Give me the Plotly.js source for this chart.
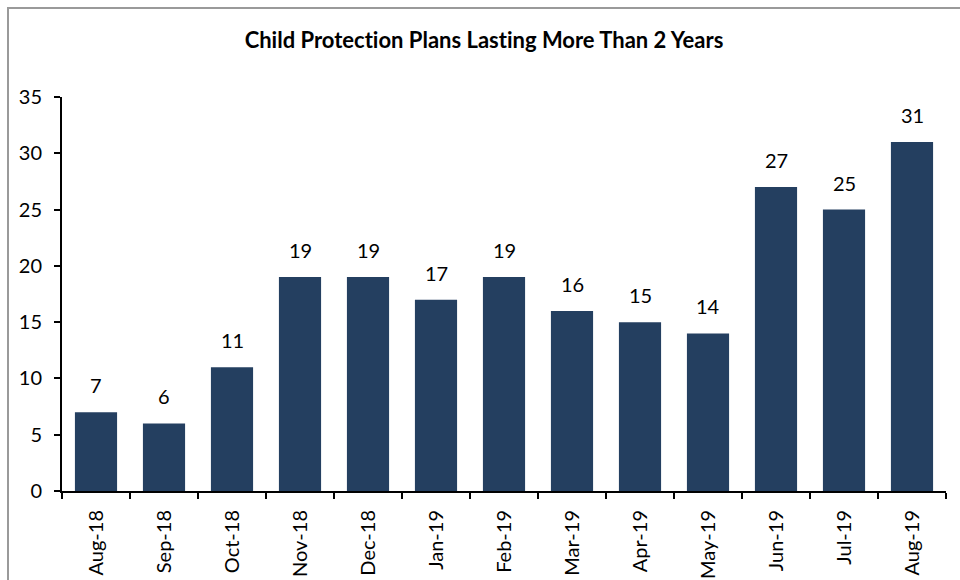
<!DOCTYPE html>
<html>
<head>
<meta charset="utf-8">
<script src="https://cdn.plot.ly/plotly-3.0.1.min.js"></script>
<style>
body{margin:0;padding:0;background:#fff;}
#chart{position:absolute;left:0;top:0;width:960px;height:580px;}
#chart text{font-variant-ligatures:none;font-feature-settings:"liga" 0;}
#frame{position:absolute;left:7px;top:7px;width:970px;height:600px;border:2px solid #9a9a9a;pointer-events:none;}
</style>
</head>
<body>
<div id="chart"></div>
<div id="frame"></div>
<script>
const months = ["Aug-18","Sep-18","Oct-18","Nov-18","Dec-18","Jan-19","Feb-19","Mar-19","Apr-19","May-19","Jun-19","Jul-19","Aug-19"];
const plansOver2Years = [7,6,11,19,19,17,19,16,15,14,27,25,31];
const titleText = "Child Protection Plans Lasting More Than 2 Years";

const fontFam = "Lato, 'Open Sans', sans-serif";

const trace = {
  type: "bar",
  x: months,
  y: plansOver2Years,
  marker: {color: "#243F60"},
  hoverinfo: "x+y"
};

const annotations = months.map((m, i) => ({
  x: m, y: plansOver2Years[i], xref: "x", yref: "y",
  text: String(plansOver2Years[i]), showarrow: false,
  yanchor: "middle", yshift: 27,
  font: {family: fontFam, size: 20, color: "#000"}
}));

const layout = {
  width: 960, height: 580,
  margin: {l: 62, r: 14, t: 97, b: 89},
  paper_bgcolor: "#fff", plot_bgcolor: "#fff",
  title: {text: "<b>" + titleText + "</b>", x: 484/960, xanchor: "center", y: 1 - 40/580, yanchor: "middle",
          font: {family: fontFam, size: 22, color: "#000"}},
  bargap: 0.38,
  showlegend: false,
  xaxis: {
    type: "category",
    showline: true, linecolor: "#000", linewidth: 2,
    ticks: "outside", ticklen: 6, tickcolor: "#000", tickwidth: 2,
    tickson: "boundaries",
    tickangle: -90,
    ticklabelstandoff: 9,
    showgrid: false, zeroline: false,
    tickfont: {family: fontFam, size: 20, color: "#000"}
  },
  yaxis: {
    range: [0, 35], dtick: 5, tick0: 0,
    showline: true, linecolor: "#000", linewidth: 2,
    ticks: "outside", ticklen: 6, tickcolor: "#000", tickwidth: 2,
    showgrid: false, zeroline: false,
    ticklabelstandoff: 8,
    tickfont: {family: fontFam, size: 20, color: "#000"}
  },
  annotations: annotations
};

Plotly.newPlot("chart", [trace], layout, {displayModeBar: false, staticPlot: true});
</script>
</body>
</html>
